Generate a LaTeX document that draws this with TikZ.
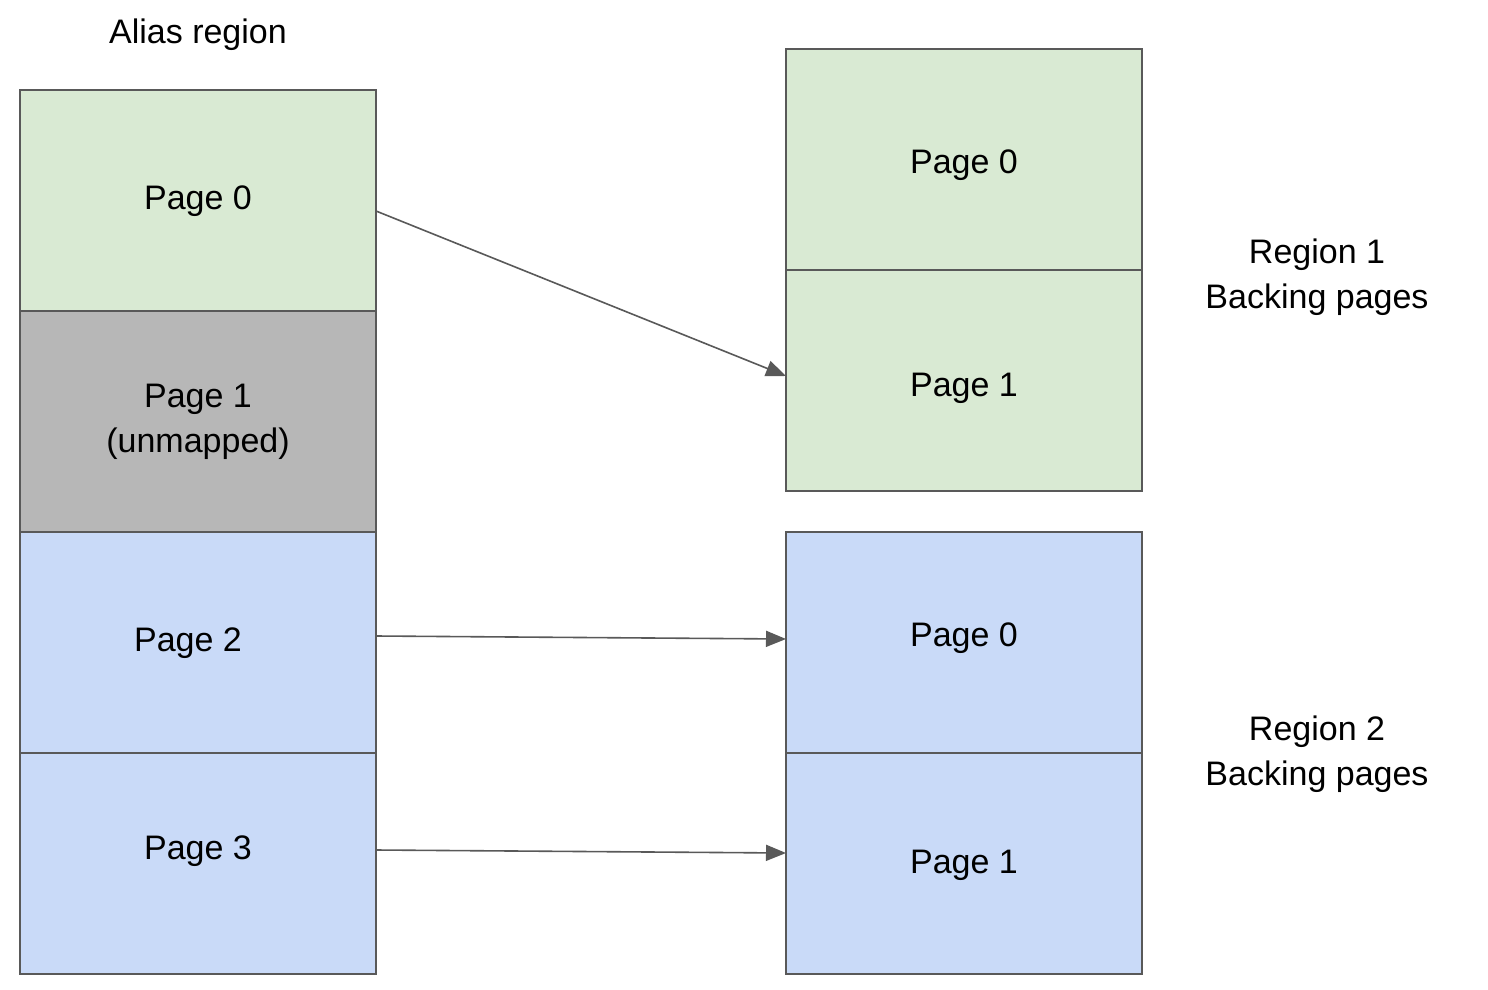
\documentclass[tikz,border=0pt]{standalone}
\usepackage{fontspec}
\setmainfont{Liberation Sans}
\usetikzlibrary{arrows.meta}
\definecolor{gr}{HTML}{D9EAD3}
\definecolor{gy}{HTML}{B7B7B7}
\definecolor{bl}{HTML}{C9DAF8}
\definecolor{ln}{HTML}{595959}
\begin{document}
\begin{tikzpicture}[x=1pt,y=-1pt,
  box/.style={draw=ln,line width=2pt},
  lbl/.style={font=\fontsize{34}{45}\selectfont,align=center,inner sep=0},
  arr/.style={draw=ln,line width=1.6pt,-{Triangle[length=20pt,width=16pt]}}]
\useasboundingbox (0,0) rectangle (1488,990);
\fill[white] (0,0) rectangle (1488,990);
\path[box,fill=gr] (20,90) rectangle (376,311);
\path[box,fill=gy] (20,311) rectangle (376,532);
\path[box,fill=bl] (20,532) rectangle (376,753);
\path[box,fill=bl] (20,753) rectangle (376,974);
\path[box,fill=gr] (786,49) rectangle (1142,270);
\path[box,fill=gr] (786,270) rectangle (1142,491);
\path[box,fill=bl] (786,532) rectangle (1142,753);
\path[box,fill=bl] (786,753) rectangle (1142,974);
\node[lbl] (ta) at (198,35) {Alias region};
\node[lbl] (a0) at (198,201) {Page 0};
\node[lbl] (a1) at (198,422) {Page 1\\(unmapped)};
\node[lbl] (a2) at (188,643) {Page 2};
\node[lbl] (a3) at (198,851) {Page 3};
\node[lbl] (b0) at (964,165) {Page 0};
\node[lbl] (b1) at (964,388) {Page 1};
\node[lbl] (c0) at (964,638) {Page 0};
\node[lbl] (c1) at (964,865) {Page 1};
\node[lbl] (r1) at (1317,277) {Region 1\\Backing pages};
\node[lbl] (r2) at (1317,754) {Region 2\\Backing pages};
\coordinate (s0) at (376,211); \coordinate (e0) at (786,376);
\coordinate (s2) at (376,636); \coordinate (e2) at (786,639);
\coordinate (s3) at (376,850); \coordinate (e3) at (786,853);
\draw[arr] (s0) -- (e0);
\draw[arr] (s2) -- (e2);
\draw[arr] (s3) -- (e3);
\end{tikzpicture}
\end{document}
